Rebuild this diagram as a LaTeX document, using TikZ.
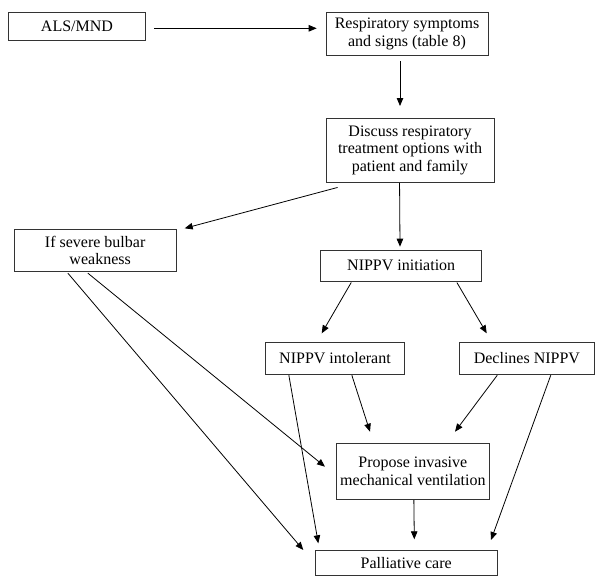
\documentclass[tikz,border=0pt]{standalone}
\usepackage{fontspec}
\setmainfont{Liberation Serif}
\usetikzlibrary{arrows.meta,calc}
\begin{document}
\begin{tikzpicture}[x=1pt,y=-1pt,
  boxst/.style={draw=black!80,line width=0.9pt,inner sep=0pt,align=center,
    font=\fontsize{16}{17.7}\selectfont},
  arr/.style={draw=black,line width=0.8pt,-{Triangle[length=8pt,width=6.5pt]}}]
\useasboundingbox (0,0) rectangle (596,576);
% boxes
\node[boxst,minimum width=137.4pt,minimum height=28pt] (als) at (77,26.7) {ALS/MND};
\node[boxst,minimum width=162pt,minimum height=42.3pt] (resp) at (407,33.85) {Respiratory symptoms\\and signs (table 8)};
\node[boxst,minimum width=168pt,minimum height=64.3pt] (disc) at (410,150.15) {Discuss respiratory\\treatment options with\\patient and family};
\node[boxst,minimum width=161.7pt,minimum height=42.4pt] (bulbar) at (95.15,250.5) {If severe bulbar\\\hspace*{10pt}weakness};
\node[boxst,minimum width=161pt,minimum height=31pt] (init) at (401.2,265.5) {NIPPV initiation};
\node[boxst,minimum width=138.6pt,minimum height=31.6pt] (intol) at (335,358.5) {NIPPV intolerant};
\node[boxst,minimum width=135.2pt,minimum height=31.6pt] (decl) at (526.9,358.5) {Declines NIPPV};
\node[boxst,minimum width=152.3pt,minimum height=56.4pt] (prop) at (412.85,471.5) {Propose invasive\\mechanical ventilation};
\node[boxst,minimum width=182.3pt,minimum height=25.5pt] (pall) at (406.15,562.75) {Palliative care};
% free arrow tips
\coordinate (t1) at (316.7,28.3);
\coordinate (t2) at (400,106);
\coordinate (t3) at (184.7,228.3);
\coordinate (t4) at (400,246.7);
\coordinate (t5) at (321.7,333.3);
\coordinate (t6) at (486.7,333.3);
\coordinate (t7) at (318.3,543.3);
\coordinate (t8) at (370,431.7);
\coordinate (t9) at (455,431.7);
\coordinate (t10) at (491,540);
\coordinate (t11) at (325,466.7);
\coordinate (t12) at (303.3,550);
\coordinate (t13) at (414.3,539.3);
% connectors
\draw[arr] ($(als.east)+(8.3,1.6)$) -- (t1);
\draw[arr] ($(resp.south)+(-7,6)$) -- (t2);
\draw[arr] ($(disc.south west)+(12,4.7)$) -- (t3);
\draw[arr] ($(disc.south west)+(74,0)$) -- (t4);
\draw[arr] ($(init.south west)+(31,1)$) -- (t5);
\draw[arr] ($(init.south west)+(136.6,1)$) -- (t6);
\draw[arr] ($(intol.south west)+(23.6,0.5)$) -- (t7);
\draw[arr] ($(intol.south west)+(86.6,0.5)$) -- (t8);
\draw[arr] ($(decl.south west)+(38.4,0.5)$) -- (t9);
\draw[arr] ($(decl.south west)+(91.9,0.5)$) -- (t10);
\draw[arr] ($(bulbar.south west)+(74,1)$) -- (t11);
\draw[arr] ($(bulbar.south west)+(54,1)$) -- (t12);
\draw[arr] ($(prop.south west)+(77.6,0)$) -- (t13);
\end{tikzpicture}
\end{document}
